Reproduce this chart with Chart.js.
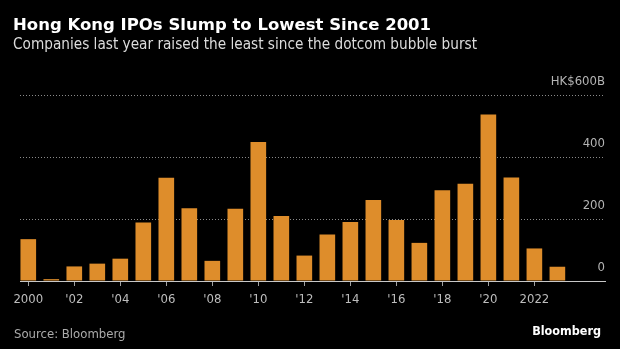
<!DOCTYPE html>
<html><head><meta charset="utf-8">
<script src="https://cdn.jsdelivr.net/npm/chart.js@4"></script>
<style>
html,body{margin:0;padding:0;background:#000;}
#wrap{position:relative;width:620px;height:349px;overflow:hidden;background:#000;}
canvas{position:absolute;left:0;top:0;}
.t{position:absolute;white-space:nowrap;line-height:1;}
.cond{font-family:'DejaVu Sans Condensed','DejaVu Sans',sans-serif;font-stretch:condensed;}
</style></head><body>
<div id="wrap">
<canvas id="c" width="620" height="349"></canvas>
<div class="t" style="left:13px;top:17px;font-family:'DejaVu Sans',sans-serif;font-weight:bold;font-size:16.5px;color:#fff;">Hong Kong IPOs Slump to Lowest Since 2001</div>
<div class="t cond" style="left:13px;top:37px;font-size:15.2px;color:#dcdcdc;">Companies last year raised the least since the dotcom bubble burst</div>
<div class="t cond" style="left:14px;top:327px;font-size:13px;color:#ababab;">Source: Bloomberg</div>
<div class="t cond" style="right:19px;top:325px;font-size:12.5px;font-weight:bold;color:#fff;">Bloomberg</div>
</div>
<script>
const years = [2000,2001,2002,2003,2004,2005,2006,2007,2008,2009,2010,2011,2012,2013,2014,2015,2016,2017,2018,2019,2020,2021,2022,2023];
const ipoValues = [135,6,47,56,72,189,333,235,65,233,448,210,82,150,190,261,197,123,293,314,537,334,105,46];
const xTickYears = [2000,2002,2004,2006,2008,2010,2012,2014,2016,2018,2020,2022];
const xTickLabels = ['2000',"'02","'04","'06","'08","'10","'12","'14","'16","'18","'20",'2022'];
const yTickValues = [0,200,400,600];
const yTickLabels = ['0','200','400','HK$600B'];

const condFamily = "'DejaVu Sans Condensed', 'DejaVu Sans', sans-serif";

new Chart(document.getElementById('c').getContext('2d'), {
  type: 'bar',
  data: {
    datasets: [{
      data: years.map((y, i) => ({x: y, y: ipoValues[i]})),
      backgroundColor: '#DE8D2B',
      borderWidth: 0,
      barPercentage: 0.68,
      categoryPercentage: 1
    }]
  },
  options: {
    responsive: false,
    animation: false,
    devicePixelRatio: 1,
    layout: {padding: {left: 20, right: 15, top: 95, bottom: 38}},
    plugins: {legend: {display: false}, tooltip: {enabled: false}, title: {display: false}},
    scales: {
      x: {
        type: 'linear', min: 1999.64, max: 2025.07, offset: false,
        afterBuildTicks: s => { s.ticks = xTickYears.map(v => ({value: v})); },
        afterFit: s => { s.height = 30; s.paddingLeft = 0; s.paddingRight = 0; },
        grid: {offset: false, drawOnChartArea: false, drawTicks: true, tickLength: 5, tickColor: '#a0a0a0', color: '#a0a0a0'},
        border: {display: true, color: '#c8c8c8', width: 1},
        ticks: {
          autoSkip: false, maxRotation: 0, minRotation: 0, padding: 6, color: '#bdbdbd',
          font: {family: condFamily, size: 13},
          callback: v => { const i = xTickYears.indexOf(v); return i >= 0 ? xTickLabels[i] : ''; }
        }
      },
      y: {
        position: 'right', min: 0, max: 600,
        afterBuildTicks: s => { s.ticks = yTickValues.map(v => ({value: v})); },
        afterFit: s => { s.width = 0; s.paddingTop = 0; s.paddingBottom = 0; },
        grid: {drawTicks: false, color: '#8a8a8a', lineWidth: 1},
        border: {display: false, dash: [1, 2]},
        ticks: {
          mirror: true, padding: 0, labelOffset: -13, color: '#b4b4b4',
          font: {family: condFamily, size: 13},
          callback: v => { const i = yTickValues.indexOf(v); return i >= 0 ? yTickLabels[i] : ''; }
        }
      }
    }
  }
});
</script>
</body></html>
